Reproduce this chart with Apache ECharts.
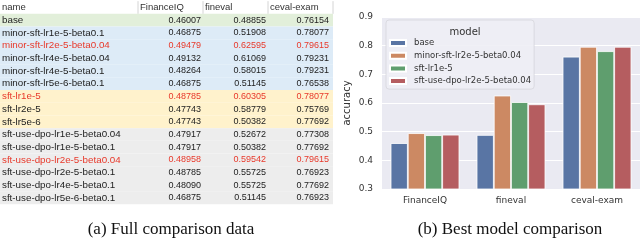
<!DOCTYPE html>
<html><head><meta charset="utf-8">
<script src="https://cdn.jsdelivr.net/npm/echarts@6/dist/echarts.min.js"></script>
<style>html,body{margin:0;padding:0;background:#fff}#c{width:640px;height:242px}</style>
</head><body><div id="c"></div>
<script>
// ---- table data ----
const headers = ['name', 'FinanceIQ', 'fineval', 'ceval-exam'];
const names = [
  'base',
  'minor-sft-lr1e-5-beta0.1',
  'minor-sft-lr2e-5-beta0.04',
  'minor-sft-lr4e-5-beta0.04',
  'minor-sft-lr4e-5-beta0.1',
  'minor-sft-lr5e-6-beta0.1',
  'sft-lr1e-5',
  'sft-lr2e-5',
  'sft-lr5e-6',
  'sft-use-dpo-lr1e-5-beta0.04',
  'sft-use-dpo-lr1e-5-beta0.1',
  'sft-use-dpo-lr2e-5-beta0.04',
  'sft-use-dpo-lr2e-5-beta0.1',
  'sft-use-dpo-lr4e-5-beta0.1',
  'sft-use-dpo-lr5e-6-beta0.1'
];
const financeIQ = [0.46007, 0.46875, 0.49479, 0.49132, 0.48264, 0.46875, 0.48785, 0.47743, 0.47743, 0.47917, 0.47917, 0.48958, 0.48785, 0.48090, 0.46875];
const fineval   = [0.48855, 0.51908, 0.62595, 0.61069, 0.58015, 0.51145, 0.60305, 0.58779, 0.50382, 0.52672, 0.50382, 0.59542, 0.55725, 0.55725, 0.51145];
const cevalExam = [0.76154, 0.78077, 0.79615, 0.79231, 0.79231, 0.76538, 0.78077, 0.75769, 0.77692, 0.77308, 0.77692, 0.79615, 0.76923, 0.77692, 0.76923];
const groups = ['base','minor','minor','minor','minor','minor','sft','sft','sft','dpo','dpo','dpo','dpo','dpo','dpo'];
const highlighted = ['minor-sft-lr2e-5-beta0.04', 'sft-lr1e-5', 'sft-use-dpo-lr2e-5-beta0.04'];

// ---- bar chart data ----
const benchmarks = ['FinanceIQ', 'fineval', 'ceval-exam'];
const models = ['base', 'minor-sft-lr2e-5-beta0.04', 'sft-lr1e-5', 'sft-use-dpo-lr2e-5-beta0.04'];
const yTicks = [0.3, 0.4, 0.5, 0.6, 0.7, 0.8, 0.9];

const groupFill = {base:'#E2EFDA', minor:'#DDEBF7', sft:'#FFF2CC', dpo:'#EDEDED'};
const barColors = ['#5975a4', '#cc8963', '#5f9e6e', '#b55d60'];

const tableRows = ['header'].concat(names);
const valueCols = [financeIQ, fineval, cevalExam];

const chart = echarts.init(document.getElementById('c'), null, {renderer:'canvas'});
const tableFont = '"Liberation Sans", Arial, sans-serif';

function renderRow(params, api) {
  const idx = api.value(1);
  const c = api.coord([0, idx]);
  const h = api.size([0, 1])[1];
  const x0 = api.coord([0, idx])[0];
  const x1 = api.coord([333, idx])[0];
  const y = c[1];
  const children = [];
  if (idx === 0) {
    children.push({type:'rect', shape:{x:x0, y:y-h/2, width:x1-x0, height:h}, style:{fill:'#ffffff'}});
    const sepX = [138, 203, 268, 333];
    sepX.forEach(sx => children.push({type:'line', shape:{x1:sx, y1:y-h/2, x2:sx, y2:y+h/2}, style:{stroke:'#d4d4d4', lineWidth:1}}));
    const hx = [2, 140, 205, 270];
    headers.forEach((t, k) => children.push({type:'text', x:hx[k], y:y, style:{text:t, fill:'#333', font:'9.5px ' + tableFont, textAlign:'left', textVerticalAlign:'middle'}}));
  } else {
    const r = idx - 1;
    const red = highlighted.indexOf(names[r]) >= 0;
    const col = red ? '#e8392b' : '#222';
    children.push({type:'rect', shape:{x:x0, y:y-h/2, width:x1-x0, height:h}, style:{fill:groupFill[groups[r]]}});
    children.push({type:'text', x:2, y:y, style:{text:names[r], fill:col, font:'9.8px ' + tableFont, textAlign:'left', textVerticalAlign:'middle'}});
    const vx = [201, 266, 329];
    valueCols.forEach((arr, k) => children.push({type:'text', x:vx[k], y:y, style:{text:arr[r].toFixed(5), fill:col, font:'9px ' + tableFont, textAlign:'right', textVerticalAlign:'middle'}}));
  }
  return {type:'group', children};
}

const barSeries = models.map((m, i) => {
  const r = names.indexOf(m);
  return {
    name: m, type: 'bar', xAxisIndex: 0, yAxisIndex: 0,
    data: [financeIQ[r], fineval[r], cevalExam[r]],
    itemStyle: {color: barColors[i], borderColor: '#ffffff', borderWidth: 0.8},
    barGap: '0%', barCategoryGap: '20%'
  };
});

const option = {
  animation: false,
  backgroundColor: '#ffffff',
  title: [
    {text:'model', left:460, top:22, textAlign:'center', z:20, textStyle:{fontFamily:'DejaVu Sans', fontSize:10, fontWeight:'normal', color:'#333'}},
    {text:'(a) Full comparison data', left:166, top:216, textAlign:'center', textStyle:{fontFamily:'"Liberation Serif", serif', fontSize:17, fontWeight:'normal', color:'#111'}},
    {text:'(b) Best model comparison', left:505, top:216, textAlign:'center', textStyle:{fontFamily:'"Liberation Serif", serif', fontSize:17, fontWeight:'normal', color:'#111'}}
  ],
  legend: {
    data: models, orient:'vertical', left:386, top:20,
    padding:[17, 3, 2, 3], itemGap:0.7, itemWidth:16, itemHeight:6, icon:'rect',
    backgroundColor:'rgba(238,238,245,0.9)', borderColor:'#d6d6dc', borderWidth:0.8, borderRadius:3,
    textStyle:{fontFamily:'DejaVu Sans', fontSize:8.5, color:'#333', lineHeight:12, padding:[0,0,0,3]},
    z: 4
  },
  grid: [
    {left:382, top:17, width:259, height:172, show:true, backgroundColor:'#eaeaf2', borderWidth:0, containLabel:false},
    {left:0, top:1.15, width:333, height:203.2, show:false}
  ],
  xAxis: [
    {type:'category', data: benchmarks, gridIndex:0,
     axisLine:{show:false}, axisTick:{show:false},
     axisLabel:{fontFamily:'DejaVu Sans', fontSize:9, color:'#333', margin:7},
     splitLine:{show:false}},
    {type:'value', gridIndex:1, min:0, max:333, show:false}
  ],
  yAxis: [
    {type:'value', gridIndex:0, min:yTicks[0], max:yTicks[yTicks.length-1], interval:0.1,
     name:'accuracy', nameLocation:'middle', nameGap:30, nameRotate:90,
     nameTextStyle:{fontFamily:'DejaVu Sans', fontSize:10, color:'#333'},
     axisLine:{show:false}, axisTick:{show:false},
     axisLabel:{fontFamily:'DejaVu Sans', fontSize:9, color:'#333', margin:9, formatter: v => v.toFixed(1)},
     splitLine:{show:true, lineStyle:{color:'#ffffff', width:1}}},
    {type:'category', gridIndex:1, data: tableRows, inverse:true, show:false}
  ],
  series: barSeries.concat([{
    type:'custom', xAxisIndex:1, yAxisIndex:1,
    renderItem: renderRow,
    data: tableRows.map((_, i) => [0, i]),
    encode:{x:0, y:1}, silent:true
  }])
};
chart.setOption(option);
</script></body></html>
